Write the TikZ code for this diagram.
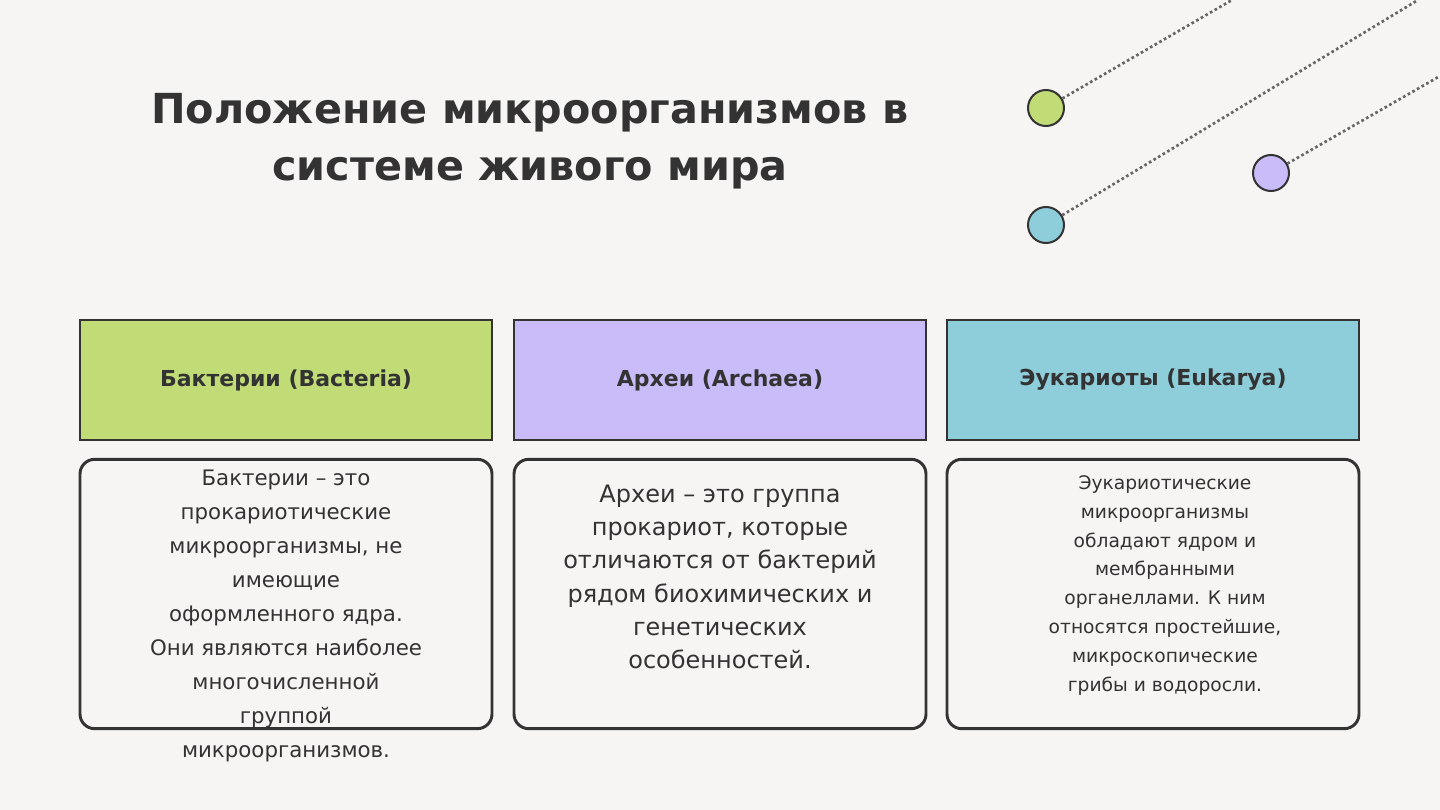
\documentclass[tikz,border=0pt]{standalone}
\usepackage{fontspec}
\setmainfont{DejaVu Sans}
\definecolor{bg}{HTML}{F6F5F3}
\definecolor{dk}{HTML}{333333}
\definecolor{cg}{HTML}{C1DC76}
\definecolor{cp}{HTML}{C9BCF9}
\definecolor{ct}{HTML}{8ECDDA}
\tikzset{
 hdr/.style={draw=dk,line width=2.2pt,minimum width=309pt,minimum height=90pt,font=\bfseries\fontsize{16.5}{20}\selectfont,text=dk},
 body/.style={draw=dk,line width=2.2pt,rounded corners=11pt,minimum width=309pt,minimum height=202pt},
 dot/.style={circle,draw=dk,line width=1.5pt,minimum size=27pt,inner sep=0pt},
 dl/.style={draw=gray!80!black,line width=2pt,dotted}
}
\begin{document}
\begin{tikzpicture}[x=0.75pt,y=-0.75pt]
\fill[bg] (0,0) rectangle (1440,810);
\useasboundingbox (0,0) rectangle (1440,810);
\node[text=dk,font=\bfseries\fontsize{31}{43}\selectfont,align=center] (title) at (530,141) {Положение микроорганизмов в\\системе живого мира};
\node[dot,fill=cg] (c1) at (1046,108) {};
\node[dot,fill=ct] (c2) at (1046,225) {};
\node[dot,fill=cp] (c3) at (1271,173) {};
\coordinate (e1) at (1232,0);
\coordinate (e2) at (1418,0);
\coordinate (e3) at (1440,76);
\draw[dl] (c1) -- (e1);
\draw[dl] (c2) -- (e2);
\draw[dl] (c3) -- (e3);
\node[hdr,fill=cg] (h1) at (286,380) {Бактерии (Bacteria)};
\node[hdr,fill=cp] (h2) at (720,380) {Археи (Archaea)};
\node[hdr,fill=ct] (h3) at (1153,380) {Эукариоты (Eukarya)};
\node[body] (b1) at (286,594) {};
\node[body] (b2) at (720,594) {};
\node[body] (b3) at (1153,594) {};
\node[anchor=north,align=center,text=dk,font=\fontsize{16}{25.5}\selectfont] (t1) at (286,465) {Бактерии – это\\прокариотические\\микроорганизмы, не\\имеющие\\оформленного ядра.\\Они являются наиболее\\многочисленной\\группой\\микроорганизмов.};
\node[anchor=north,align=center,text=dk,font=\fontsize{18}{25}\selectfont] (t2) at (720,480) {Археи – это группа\\прокариот, которые\\отличаются от бактерий\\рядом биохимических и\\генетических\\особенностей.};
\node[anchor=north,align=center,text=dk,font=\fontsize{14}{21.6}\selectfont] (t3) at (1165,471) {Эукариотические\\микроорганизмы\\обладают ядром и\\мембранными\\органеллами. К ним\\относятся простейшие,\\микроскопические\\грибы и водоросли.};
\end{tikzpicture}
\end{document}
